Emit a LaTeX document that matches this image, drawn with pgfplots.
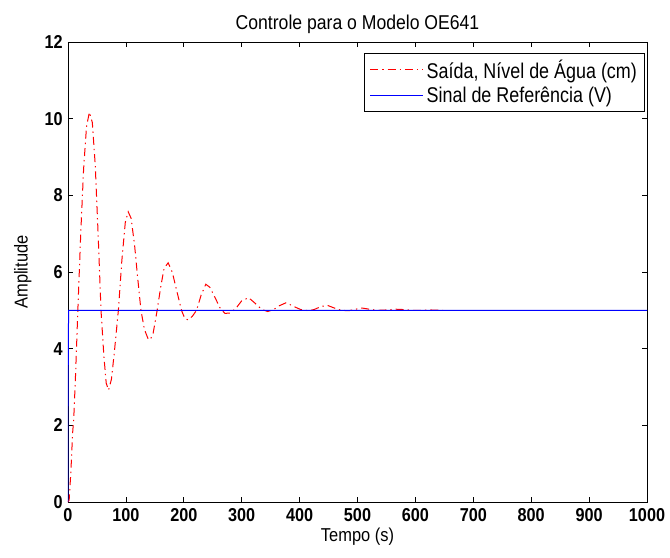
\documentclass[border=0pt]{standalone}
\usepackage{fontspec}
\setmainfont[FakeStretch=0.88]{Liberation Sans}
\newfontfamily\tickfont[FakeStretch=0.87]{Liberation Sans}
\newfontfamily\legfont[FakeStretch=0.84]{Liberation Sans}
\usepackage{pgfplots}
\pgfplotsset{compat=1.18}
\begin{document}
\begin{tikzpicture}
\begin{axis}[
  scale only axis,
  width=434.25pt, height=345pt,
  xmin=0, xmax=1000, ymin=0, ymax=12,
  xtick={0,100,...,1000}, ytick={0,2,...,12},
  tick align=inside,
  major tick length=4pt,
  axis line style={line width=0.6pt},
  every tick/.style={black, line width=0.6pt},
  /pgf/number format/assume math mode=true,
  /pgf/number format/1000 sep={},
  tick label style={font=\tickfont\bfseries\fontsize{14}{16}\selectfont},
  xticklabel style={yshift=-1pt},
  yticklabel style={xshift=-0.5pt},
  title={Controle para o Modelo OE641},
  title style={font=\fontsize{15}{17}\selectfont, yshift=-3pt},
  xlabel={Tempo (s)},
  ylabel={Amplitude},
  label style={font=\fontsize{14}{16}\selectfont},
  xlabel style={yshift=2pt},
  ylabel style={yshift=3pt},
  legend style={at={(rel axis cs:0.997,0.977)}, anchor=north east,
    font=\legfont\fontsize{16}{18}\selectfont, line width=0.6pt,
    inner xsep=4pt, inner ysep=3pt, row sep=1pt},
  legend cell align=left,
]
\addplot[color=red, line width=0.75pt, dash pattern=on 6pt off 3pt on 1pt off 3pt,
  legend image code/.code={\draw[red, line width=0.9pt, dash pattern=on 6pt off 3pt on 1pt off 3pt] (0cm,0cm) -- (1.4cm,0cm);}] coordinates {
(0,0) (2,0.05) (5,0.8) (8,1.8) (10,2.2) (13,3.3) (17,5.0) (22,7.0) (27,8.7) (32,9.8)
(37,10.17) (42,9.9) (47,8.8) (52,7.0) (57,5.0) (62,3.8) (66,3.1) (70,2.92) (75,3.2)
(80,3.9) (87,5.0) (93,6.3) (99,7.3) (104,7.57) (109,7.4) (115,6.7) (120,5.9) (126,5.0)
(132,4.5) (138,4.27) (142,4.23) (147,4.4) (154,5.0) (160,5.6) (166,6.1) (173,6.24)
(180,6.0) (188,5.5) (196,5.0) (202,4.78) (208,4.75) (215,4.85) (222,5.0) (230,5.4)
(238,5.68) (245,5.6) (255,5.3) (263,5.05) (271,4.92) (280,4.93) (290,5.05) (300,5.25)
(312,5.33) (322,5.2) (335,5.02) (345,4.97) (355,5.02) (365,5.12) (377,5.2) (390,5.1)
(402,5.02) (415,4.99) (425,5.02) (437,5.1) (448,5.13) (460,5.06) (472,5.0) (485,4.99)
(497,5.03) (508,5.06) (520,5.03) (535,5.0) (550,5.01) (565,5.03) (580,5.02) (595,5.0)
(610,5.0) (625,5.01) (648,5.0)
};
\addlegendentry{Saída, Nível de Água (cm)}
\addplot[color=blue, line width=0.75pt,
  legend image code/.code={\draw[blue, line width=0.9pt] (0cm,0.3pt) -- (1.4cm,0.3pt);}] coordinates {
(0,0) (0,2.5) (1,5) (1000,5)
};
\addlegendentry{Sinal de Referência (V)}
\end{axis}
\pgfresetboundingbox
\path (current axis.south west) ++(-51pt,-41.25pt) coordinate (bl);
\path (current axis.north east) ++(17.25pt,31.5pt) coordinate (tr);
\path[use as bounding box] (bl) rectangle (tr);
\end{tikzpicture}
\end{document}
